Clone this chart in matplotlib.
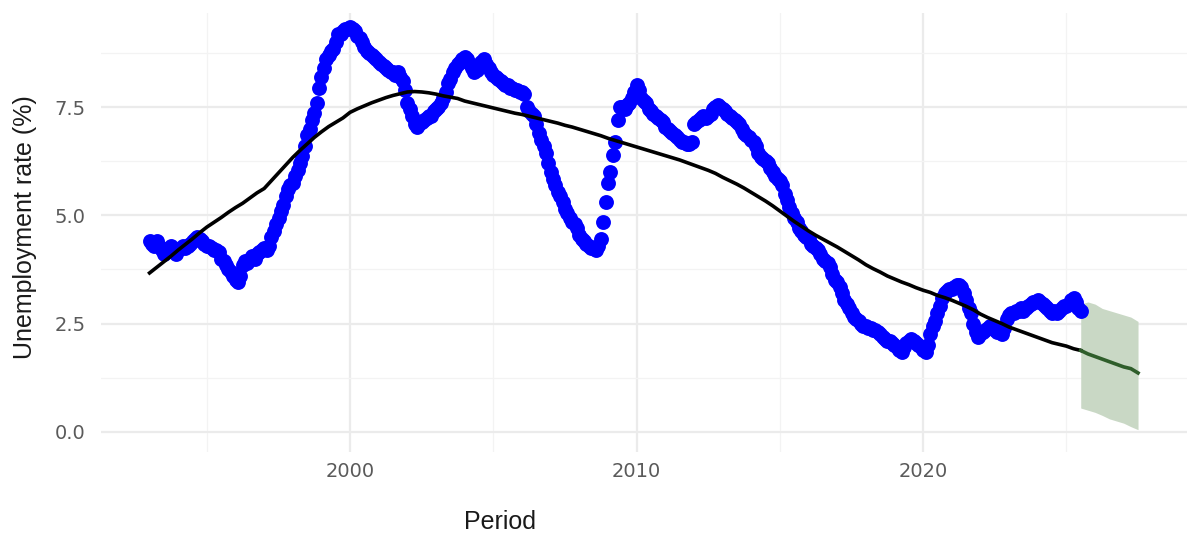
import numpy as np
import matplotlib
matplotlib.use("Agg")
import matplotlib.pyplot as plt

# monthly unemployment rate (%), Jan 1993 .. Jul 2025
rate_by_year = {
    1993: [4.4, 4.35, 4.3, 4.4, 4.3, 4.2, 4.1, 4.15, 4.25, 4.3, 4.2, 4.1],
    1994: [4.2, 4.25, 4.3, 4.25, 4.3, 4.35, 4.4, 4.45, 4.5, 4.45, 4.4, 4.35],
    1995: [4.3, 4.3, 4.25, 4.2, 4.2, 4.15, 4.0, 3.95, 3.85, 3.75, 3.7, 3.6],
    1996: [3.5, 3.45, 3.6, 3.85, 3.95, 3.9, 4.0, 4.05, 4.0, 4.1, 4.15, 4.2],
    1997: [4.25, 4.2, 4.3, 4.5, 4.65, 4.8, 4.95, 5.1, 5.25, 5.45, 5.6, 5.7],
    1998: [5.75, 5.9, 6.05, 6.2, 6.36, 6.6, 6.85, 7.0, 7.2, 7.36, 7.6, 7.94],
    1999: [8.2, 8.4, 8.6, 8.7, 8.8, 8.85, 9.0, 9.2, 9.2, 9.25, 9.3, 9.3],
    2000: [9.35, 9.3, 9.25, 9.15, 9.1, 9.0, 8.9, 8.8, 8.75, 8.7, 8.65, 8.6],
    2001: [8.55, 8.5, 8.45, 8.4, 8.35, 8.3, 8.3, 8.25, 8.3, 8.2, 8.1, 7.9],
    2002: [7.6, 7.45, 7.3, 7.1, 7.05, 7.1, 7.15, 7.2, 7.25, 7.3, 7.3, 7.4],
    2003: [7.45, 7.5, 7.6, 7.7, 7.85, 8.05, 8.15, 8.3, 8.4, 8.5, 8.55, 8.6],
    2004: [8.65, 8.6, 8.5, 8.4, 8.3, 8.35, 8.45, 8.55, 8.6, 8.5, 8.4, 8.3],
    2005: [8.25, 8.2, 8.15, 8.1, 8.05, 8.0, 8.0, 7.95, 7.95, 7.9, 7.9, 7.85],
    2006: [7.85, 7.8, 7.5, 7.4, 7.35, 7.3, 7.1, 6.9, 6.75, 6.6, 6.45, 6.2],
    2007: [6.0, 5.85, 5.7, 5.55, 5.45, 5.3, 5.15, 5.05, 4.95, 4.85, 4.8, 4.7],
    2008: [4.55, 4.45, 4.4, 4.35, 4.3, 4.25, 4.25, 4.2, 4.3, 4.45, 4.85, 5.3],
    2009: [5.75, 6.0, 6.4, 6.7, 7.2, 7.5, 7.5, 7.45, 7.55, 7.6, 7.7, 7.85],
    2010: [8.0, 7.9, 7.7, 7.65, 7.6, 7.45, 7.4, 7.35, 7.3, 7.25, 7.2, 7.15],
    2011: [7.05, 7.0, 6.95, 6.9, 6.85, 6.8, 6.75, 6.7, 6.7, 6.65, 6.65, 6.7],
    2012: [7.1, 7.15, 7.2, 7.25, 7.3, 7.25, 7.3, 7.35, 7.45, 7.5, 7.55, 7.5],
    2013: [7.45, 7.4, 7.35, 7.3, 7.25, 7.2, 7.15, 7.1, 7.0, 6.9, 6.85, 6.8],
    2014: [6.75, 6.7, 6.6, 6.45, 6.35, 6.3, 6.25, 6.2, 6.1, 6.0, 5.9, 5.85],
    2015: [5.8, 5.7, 5.5, 5.35, 5.2, 5.05, 4.95, 4.85, 4.7, 4.65, 4.55, 4.5],
    2016: [4.45, 4.35, 4.3, 4.25, 4.2, 4.1, 4.0, 3.95, 3.9, 3.8, 3.65, 3.5],
    2017: [3.45, 3.35, 3.2, 3.05, 2.95, 2.85, 2.75, 2.65, 2.6, 2.55, 2.5, 2.45],
    2018: [2.45, 2.4, 2.4, 2.35, 2.35, 2.3, 2.25, 2.2, 2.15, 2.1, 2.1, 2.05],
    2019: [2.0, 1.95, 1.9, 1.85, 1.95, 2.05, 2.1, 2.15, 2.1, 2.05, 2.0, 1.95],
    2020: [1.9, 1.85, 2.0, 2.25, 2.45, 2.55, 2.75, 2.9, 3.1, 3.2, 3.25, 3.3],
    2021: [3.3, 3.35, 3.4, 3.4, 3.35, 3.2, 3.05, 2.85, 2.75, 2.5, 2.3, 2.2],
    2022: [2.25, 2.3, 2.35, 2.4, 2.45, 2.4, 2.35, 2.3, 2.3, 2.25, 2.4, 2.6],
    2023: [2.7, 2.75, 2.75, 2.8, 2.8, 2.85, 2.8, 2.85, 2.9, 2.95, 3.0, 3.0],
    2024: [3.05, 3.0, 2.95, 2.9, 2.85, 2.8, 2.75, 2.8, 2.75, 2.8, 2.85, 2.9],
    2025: [2.9, 2.95, 3.05, 3.1, 3.0, 2.85, 2.8],
}

# quarterly trend (black line), 1993 Q1 .. 2025 Q3
trend_start = 1993.0
trend = [
    3.67, 3.8, 3.93, 4.06,
    4.2, 4.33, 4.46, 4.6,
    4.73, 4.84, 4.95, 5.07,
    5.18, 5.28, 5.4, 5.52,
    5.62, 5.8, 5.98, 6.16,
    6.34, 6.5, 6.65, 6.8,
    6.93, 7.05, 7.15, 7.25,
    7.38, 7.46, 7.53, 7.6,
    7.66, 7.72, 7.77, 7.81,
    7.85, 7.86, 7.85, 7.83,
    7.8, 7.76, 7.73, 7.7,
    7.64, 7.6, 7.56, 7.52,
    7.48, 7.44, 7.4, 7.36,
    7.33, 7.29, 7.25, 7.21,
    7.17, 7.13, 7.08, 7.04,
    6.99, 6.94, 6.89, 6.84,
    6.78, 6.73, 6.68, 6.63,
    6.58, 6.53, 6.48, 6.43,
    6.38, 6.33, 6.28, 6.22,
    6.16, 6.1, 6.04, 5.97,
    5.88, 5.8, 5.72, 5.63,
    5.53, 5.43, 5.33, 5.22,
    5.1, 4.98, 4.86, 4.75,
    4.64, 4.54, 4.45, 4.36,
    4.27, 4.17, 4.07, 3.97,
    3.86, 3.77, 3.69, 3.6,
    3.53, 3.46, 3.4, 3.33,
    3.27, 3.22, 3.15, 3.1,
    3.04, 2.97, 2.9, 2.82,
    2.72, 2.64, 2.57, 2.5,
    2.42, 2.36, 2.3, 2.24,
    2.18, 2.12, 2.06, 2.02,
    1.98, 1.92, 1.88,
]

# forecast (green) with interval, quarterly from mid 2025
fc_t = [2025.5, 2025.75, 2026.0, 2026.25, 2026.5, 2026.75, 2027.0, 2027.25, 2027.5]
fc_mean = [1.88, 1.8, 1.74, 1.68, 1.62, 1.56, 1.5, 1.46, 1.36]
fc_hi = [2.95, 3.0, 2.95, 2.85, 2.8, 2.75, 2.7, 2.65, 2.55]
fc_lo = [0.55, 0.5, 0.45, 0.38, 0.3, 0.25, 0.2, 0.12, 0.05]

# time axis for monthly points
months_t, months_v = [], []
for yr, vals in rate_by_year.items():
    for m, v in enumerate(vals):
        months_t.append(yr + m / 12)
        months_v.append(v)
trend_t = [trend_start + i * 0.25 for i in range(len(trend))]

fig = plt.figure(figsize=(11.9, 5.36), dpi=100)
ax = fig.add_axes([0.085, 0.157, 0.9125, 0.819])

ax.fill_between(fc_t, fc_lo, fc_hi, color='#c9d8c5', lw=0, zorder=2)
ax.scatter(months_t, months_v, s=115, color='#0000ff', lw=0, zorder=3)
ax.plot(trend_t, trend, color='black', lw=2.6, zorder=4)
ax.plot(fc_t, fc_mean, color='#2f5e2b', lw=2.6, zorder=4)

ax.set_xlim(1991.31, 2029.21)
ax.set_ylim(-0.462, 9.677)
ax.set_xticks([2000, 2010, 2020])
ax.set_xticks([1995, 2005, 2015, 2025], minor=True)
ax.set_yticks([0, 2.5, 5, 7.5])
ax.set_yticks([1.25, 3.75, 6.25, 8.75], minor=True)
ax.set_yticklabels(['0.0', '2.5', '5.0', '7.5'])

ax.grid(which='major', color='#ebebeb', lw=1.6, zorder=0)
ax.grid(which='minor', color='#f3f3f3', lw=0.9, zorder=0)
ax.set_axisbelow(True)
for s in ax.spines.values():
    s.set_visible(False)
ax.tick_params(which='both', length=0)
ax.tick_params(axis='y', pad=11, labelsize=14, labelcolor='#5a5a5a')
ax.tick_params(axis='x', pad=7, labelsize=14, labelcolor='#5a5a5a')

fig.text(25 / 1190, 1 - 227 / 536, 'Unemployment rate (%)', rotation=90,
         ha='center', va='center', fontsize=18, family='Liberation Sans', color='#1a1a1a')
fig.text(500 / 1190, 1 - 522 / 536, 'Period', ha='center', va='center',
         fontsize=18, family='Liberation Sans', color='#1a1a1a')

fig.savefig('out.png', dpi=100)
